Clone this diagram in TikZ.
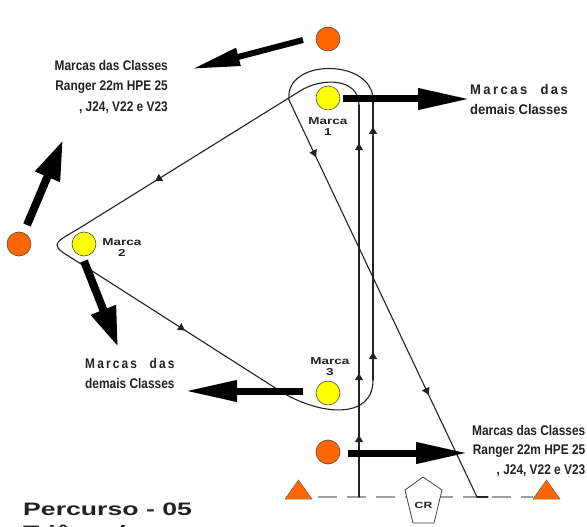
\documentclass[tikz,border=0pt]{standalone}
\usepackage{fontspec}
\setmainfont{Liberation Sans}
\newfontfamily\narrowA[FakeStretch=0.85]{Liberation Sans}
\newfontfamily\narrowB[FakeStretch=0.93]{Liberation Sans}
\newfontfamily\wideA[FakeStretch=1.35]{Liberation Sans}
\newfontfamily\wideT[FakeStretch=1.48]{Liberation Sans}
\usetikzlibrary{arrows.meta,decorations.markings}
\definecolor{orng}{RGB}{255,102,0}
\definecolor{ylw}{RGB}{255,255,0}
\definecolor{ink}{RGB}{34,34,34}
\newlength\dcw
\newcommand\letgap{\hskip 0pt plus 1fil\relax}
\newcommand\wordgap{\hskip 6pt plus 3fil\relax}
\newcommand\mdas{\settowidth{\dcw}{demais Classes}\hbox to \dcw{M\letgap a\letgap r\letgap c\letgap a\letgap s\wordgap d\letgap a\letgap s}\\demais Classes}
\newcommand\tri{\arrow{Triangle[length=7pt,width=8pt]}}
\tikzset{
  buoyO/.style={circle, fill=orng, draw=ink!80, line width=0.6pt, minimum size=24pt, inner sep=0pt},
  buoyY/.style={circle, fill=ylw, draw=ink!80, line width=0.6pt, minimum size=24pt, inner sep=0pt},
  course/.style={draw=ink, line width=1.1pt, line cap=round, line join=round},
  marked/.style={postaction={decorate}},
  bigarrow/.style={draw=black, line width=7pt, -{Triangle[length=52pt,width=20pt]}},
  marcalab/.style={anchor=north, inner sep=0pt, align=center, text=ink,
     font=\wideA\bfseries\fontsize{10}{11}\selectfont},
  rangerlab/.style={inner sep=0pt, text=ink, font=\narrowA\bfseries\fontsize{14}{20.5}\selectfont},
  buoymark/.style={fill=orng, draw=ink!70, line width=0.5pt},
}
\begin{document}
\begin{tikzpicture}[x=1pt,y=-1pt]
\useasboundingbox (0,0) rectangle (587,527);
\clip (0,0) rectangle (587,527);

% start line
\draw[gray!75, line width=2pt, dash pattern=on 19pt off 10pt] (318,497) -- (533,497);

% course
\draw[course, marked, decoration={markings,
   mark=at position 0.158 with {\tri}, mark=at position 0.316 with {\tri},
   mark=at position 0.903 with {\tri}}] (359,497) -- (359,105);
\draw[course] (359,105) .. controls (359,78) and (322,77) .. (300,91);
\draw[course, marked, decoration={markings, mark=at position 0.653 with {\tri}}]
   (300,91) -- (78,229);
\draw[course] (78,229) .. controls (50,245) .. (78,262);
\draw[course, marked, decoration={markings, mark=at position 0.53 with {\tri}}]
   (78,262) -- (280,391);
\draw[course] (280,391) .. controls (320,416) and (373,420) .. (373,380);
\draw[course, marked, decoration={markings,
   mark=at position 0.1 with {\tri}, mark=at position 0.904 with {\tri}}]
   (373,380) -- (373,100);
\draw[course] (373,100) .. controls (373,58) and (284,58) .. (289,100);
\draw[course, marked, decoration={markings,
   mark=at position 0.144 with {\tri}, mark=at position 0.743 with {\tri}}]
   (289,100) -- (477,497);
\draw[course] (477,497) -- (488,497);

% buoys
\node[buoyO] (otop) at (328,39) {};
\node[buoyO] (oleft) at (19,244) {};
\node[buoyO] (obot) at (328,452) {};
\node[buoyY] (m1) at (328,98) {};
\node[buoyY] (m2) at (84,244) {};
\node[buoyY] (m3) at (328,393) {};

\node[marcalab] (m1lab) at (328,117) {Marca\\1};
\node[marcalab] (m2lab) at (122,238.5) {Marca\\2};
\node[marcalab] (m3lab) at (330,357) {Marca\\3};

% start line marks
\filldraw[buoymark] (285,499) -- (312,499) -- (298.5,480) -- cycle;
\filldraw[buoymark] (533,499) -- (560,499) -- (546.5,480) -- cycle;
\filldraw[fill=white, draw=ink!85, line width=0.8pt]
   (423,477) -- (442,490) -- (434,523) -- (413,523) -- (405,490) -- cycle;
\node[inner sep=0pt, text=ink, font=\wideA\bfseries\fontsize{9}{9}\selectfont] (cr) at (423.5,505) {CR};

% labels
\node[rangerlab, anchor=north east, align=right] (lbtl) at (168,60)
   {Marcas das Classes\\Ranger 22m HPE 25\\, J24, V22 e V23};
\node[rangerlab, anchor=north west, align=right,
   font=\narrowA\bfseries\fontsize{14}{19.5}\selectfont] (lbbr) at (472,425)
   {Marcas das Classes\\Ranger 22m HPE 25\\, J24, V22 e V23};
\node[inner sep=0pt, anchor=north west, align=left, text=ink,
   font=\narrowB\bfseries\fontsize{14}{20}\selectfont] (lbr) at (470,84) {\mdas};
\node[inner sep=0pt, anchor=north west, align=left, text=ink,
   font=\narrowA\bfseries\fontsize{14}{20}\selectfont] (lbl) at (85,358) {\mdas};

% big arrows
\coordinate (a1s) at (303,40);  \coordinate (a1e) at (192,69);
\coordinate (a2s) at (27,225);  \coordinate (a2e) at (63,140);
\coordinate (a3s) at (84,261);  \coordinate (a3e) at (118,347);
\coordinate (a4s) at (343,99);  \coordinate (a4e) at (470,99);
\coordinate (a5s) at (303,391); \coordinate (a5e) at (185,391);
\coordinate (a6s) at (348,453); \coordinate (a6e) at (468,453);
\draw[bigarrow, line width=6pt, -{Triangle[length=48pt,width=17pt]}] (a1s) -- (a1e);
\draw[bigarrow, line width=8pt, -{Triangle[length=40pt,width=25pt]}] (a2s) -- (a2e);
\draw[bigarrow, line width=8pt, -{Triangle[length=40pt,width=25pt]}] (a3s) -- (a3e);
\draw[bigarrow] (a4s) -- (a4e);
\draw[bigarrow] (a5s) -- (a5e);
\draw[bigarrow] (a6s) -- (a6e);

% title
\node[inner sep=0pt, anchor=base west, text=ink,
   font=\wideT\bfseries\fontsize{18}{18}\selectfont] (title) at (23,515) {Percurso - 05};
\node[inner sep=0pt, anchor=base west, text=ink,
   font=\wideT\bfseries\fontsize{18}{18}\selectfont] (title2) at (23,538) {Triângulo};
\end{tikzpicture}
\end{document}
